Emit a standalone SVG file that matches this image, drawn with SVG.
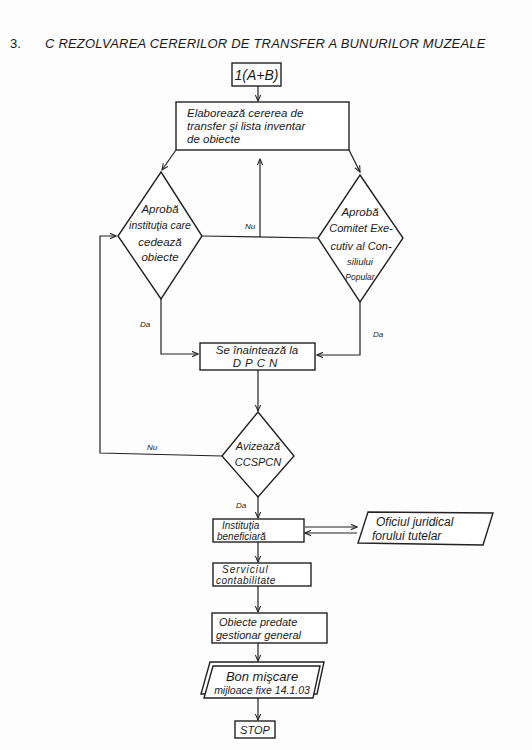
<svg xmlns="http://www.w3.org/2000/svg" width="532" height="750" viewBox="0 0 532 750">
<defs>
<marker id="ah" viewBox="0 0 10 10" refX="9" refY="5" markerWidth="7" markerHeight="7" orient="auto-start-reverse" markerUnits="userSpaceOnUse">
<path d="M0,1 L9,5 L0,9" fill="none" stroke="#222" stroke-width="1.5"/>
</marker>
<style>
.s{fill:#fff;stroke:#222;stroke-width:1.4}
.c{fill:none;stroke:#222;stroke-width:1.2}
.t{font-family:"Liberation Sans",Arial,sans-serif;font-style:italic;fill:#1a1a1a;font-size:11.5px}
.m{text-anchor:middle}
.l{font-family:"Liberation Sans",Arial,sans-serif;font-style:italic;fill:#1a1a1a;font-size:8px}
</style>
</defs>
<rect width="532" height="750" fill="#fdfdfd"/>
<g id="title">
<text x="10" y="48" class="t" style="font-style:normal;font-size:13px">3.</text>
<text x="45" y="48" class="t" style="font-size:13px;letter-spacing:0.2px">C REZOLVAREA CERERILOR DE TRANSFER A BUNURILOR MUZEALE</text>
</g>
<g id="connectors">
<line x1="258" y1="86" x2="258" y2="101" class="c" marker-end="url(#ah)"/>
<line x1="176" y1="150" x2="162" y2="170" class="c" marker-end="url(#ah)"/>
<line x1="349" y1="150" x2="360" y2="172" class="c" marker-end="url(#ah)"/>
<polyline points="202,236 318,238" class="c"/>
<line x1="260" y1="237" x2="260" y2="159" class="c" marker-end="url(#ah)"/>
<polyline points="161,299 161,354 198,354" class="c" marker-end="url(#ah)"/>
<polyline points="360,302 360,355 317,355" class="c" marker-end="url(#ah)"/>
<line x1="258" y1="370" x2="258" y2="411" class="c" marker-end="url(#ah)"/>
<polyline points="222,456 100,453 100,236 116,236" class="c" marker-end="url(#ah)"/>
<line x1="258" y1="497" x2="258" y2="518" class="c" marker-end="url(#ah)"/>
<line x1="305" y1="527" x2="357" y2="527" class="c" marker-end="url(#ah)"/>
<line x1="357" y1="533" x2="305" y2="533" class="c" marker-end="url(#ah)"/>
<line x1="258" y1="542" x2="258" y2="562" class="c" marker-end="url(#ah)"/>
<line x1="258" y1="586" x2="258" y2="612" class="c" marker-end="url(#ah)"/>
<line x1="258" y1="643" x2="258" y2="661" class="c" marker-end="url(#ah)"/>
<line x1="258" y1="698" x2="258" y2="720" class="c" marker-end="url(#ah)"/>
<text x="245" y="229" class="l">Nu</text>
<text x="140" y="327" class="l">Da</text>
<text x="373" y="337" class="l">Da</text>
<text x="147" y="450" class="l">Nu</text>
<text x="236" y="508" class="l">Da</text>
</g>
<g id="start">
<rect x="232" y="63" width="49" height="23" class="s"/>
<text x="256.5" y="80" class="t m" style="font-size:14px">1(A+B)</text>
</g>
<g id="elaboreaza">
<rect x="176" y="102" width="173" height="48" class="s"/>
<text x="187" y="117" class="t">Elaborează cererea de</text>
<text x="187" y="130" class="t">transfer şi lista inventar</text>
<text x="187" y="143" class="t">de obiecte</text>
</g>
<g id="aproba-institutia">
<polygon points="161,172 202,236 161,299 118,236" class="s"/>
<text x="160" y="213" class="t m">Aprobă</text>
<text x="160" y="229" class="t m" style="font-size:10.5px">instituţia care</text>
<text x="160" y="246" class="t m">cedează</text>
<text x="160" y="261" class="t m">obiecte</text>
</g>
<g id="aproba-comitet">
<polygon points="360,175 403,238 360,302 318,238" class="s"/>
<text x="360" y="216" class="t m">Aprobă</text>
<text x="361" y="232" class="t m" style="font-size:11px">Comitet Exe-</text>
<text x="361" y="250" class="t m" style="font-size:11px">cutiv al Con-</text>
<text x="360" y="265" class="t m" style="font-size:9.5px">siliului</text>
<text x="360" y="280" class="t m" style="font-size:8.5px">Popular</text>
</g>
<g id="dpcn">
<rect x="200" y="343" width="115" height="27" class="s"/>
<text x="257" y="354" class="t m">Se înaintează la</text>
<text x="257" y="367" class="t m" style="letter-spacing:4px">DPCN</text>
</g>
<g id="avizeaza">
<polygon points="258,412 294,456 258,497 222,456" class="s"/>
<text x="258" y="450" class="t m" style="font-size:11px">Avizează</text>
<text x="258" y="466" class="t m" style="font-size:11px">CCSPCN</text>
</g>
<g id="institutia">
<rect x="213" y="519" width="91" height="23" class="s"/>
<text x="222" y="529" class="t" style="font-size:10px">Instituţia</text>
<text x="217" y="540" class="t" style="font-size:10px">beneficiară</text>
</g>
<g id="oficiul">
<polygon points="368,512 493,513 483,545 358,543" class="s"/>
<text x="376" y="526" class="t" style="font-size:12px">Oficiul juridical</text>
<text x="372" y="540" class="t" style="font-size:12px">forului tutelar</text>
</g>
<g id="serviciul">
<rect x="213" y="563" width="98" height="23" class="s"/>
<text x="222" y="573" class="t" style="font-size:10px;letter-spacing:1px">Serviciul</text>
<text x="216" y="584" class="t" style="font-size:10px;letter-spacing:0.5px">contabilitate</text>
</g>
<g id="obiecte">
<rect x="212" y="613" width="115" height="30" class="s"/>
<text x="219" y="626" class="t" style="font-size:11px">Obiecte predate</text>
<text x="216" y="639" class="t" style="font-size:11px">gestionar general</text>
</g>
<g id="bon">
<polygon points="210,662 324,662 317,694 201,694" class="s"/>
<polygon points="213,666 320,666 313,698 204,698" class="s"/>
<text x="262" y="681" class="t m" style="font-size:13px">Bon mişcare</text>
<text x="262" y="694" class="t m" style="font-size:10.5px">mijloace fixe 14.1.03</text>
</g>
<g id="stop">
<rect x="235" y="721" width="40" height="17" class="s"/>
<text x="255" y="734" class="t m" style="font-size:11px">STOP</text>
</g>
</svg>
